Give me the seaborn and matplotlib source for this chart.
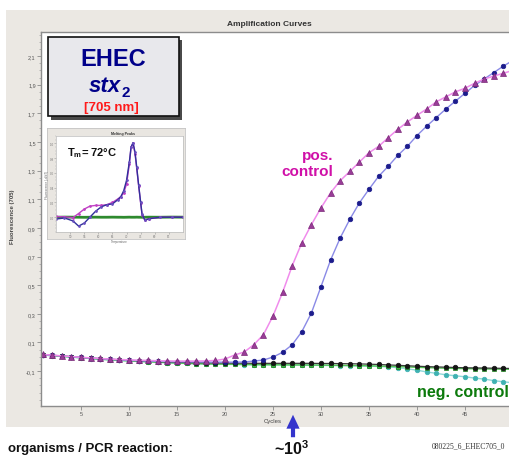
import matplotlib
matplotlib.use("Agg")
import matplotlib.pyplot as plt
import pandas as pd
import seaborn as sns
from matplotlib.patches import Rectangle
from matplotlib.ticker import AutoMinorLocator

# ---------------- data ----------------
cycles = list(range(1, 51))

pos_control = [0.016, 0.011, 0.006, 0.001, -0.004, -0.008, -0.012, -0.016, -0.019, -0.022,
               -0.024, -0.026, -0.028, -0.029, -0.030, -0.030, -0.030, -0.029, -0.026, -0.016,
               0.012, 0.033, 0.084, 0.154, 0.285, 0.450, 0.636, 0.795, 0.923, 1.040,
               1.145, 1.230, 1.294, 1.360, 1.425, 1.469, 1.530, 1.588, 1.640, 1.686,
               1.730, 1.780, 1.815, 1.850, 1.875, 1.910, 1.940, 1.960, 1.980, 2.000]

sample = [0.014, 0.010, 0.005, 0.000, -0.005, -0.010, -0.014, -0.018, -0.022, -0.025,
          -0.028, -0.030, -0.032, -0.034, -0.035, -0.036, -0.037, -0.037, -0.038, -0.038,
          -0.038, -0.037, -0.030, -0.023, -0.002, 0.031, 0.084, 0.175, 0.306, 0.490,
          0.676, 0.830, 0.960, 1.075, 1.170, 1.260, 1.330, 1.406, 1.470, 1.545,
          1.610, 1.670, 1.730, 1.785, 1.840, 1.895, 1.940, 1.985, 2.030, 2.070]

neg_black = [0.014, 0.010, 0.006, 0.001, -0.004, -0.009, -0.013, -0.017, -0.021, -0.025,
             -0.028, -0.031, -0.034, -0.036, -0.038, -0.040, -0.041, -0.042, -0.043, -0.044,
             -0.045, -0.045, -0.046, -0.046, -0.046, -0.046, -0.046, -0.046, -0.046, -0.047,
             -0.047, -0.048, -0.049, -0.050, -0.052, -0.054, -0.057, -0.060, -0.063, -0.066,
             -0.069, -0.071, -0.073, -0.075, -0.077, -0.078, -0.079, -0.080, -0.081, -0.082]

neg_green = [0.012, 0.008, 0.003, -0.002, -0.007, -0.012, -0.017, -0.021, -0.025, -0.029,
             -0.032, -0.035, -0.038, -0.041, -0.044, -0.046, -0.048, -0.050, -0.051, -0.052,
             -0.053, -0.054, -0.055, -0.055, -0.056, -0.056, -0.057, -0.057, -0.058, -0.058,
             -0.059, -0.060, -0.061, -0.062, -0.063, -0.065, -0.067, -0.069, -0.071, -0.074,
             -0.076, -0.078, -0.080, -0.082, -0.083, -0.084, -0.085, -0.086, -0.087, -0.088]

neg_cyan = [0.012, 0.007, 0.002, -0.003, -0.008, -0.013, -0.018, -0.022, -0.026, -0.030,
            -0.033, -0.036, -0.039, -0.042, -0.045, -0.047, -0.049, -0.051, -0.052, -0.053,
            -0.054, -0.055, -0.056, -0.056, -0.057, -0.057, -0.058, -0.058, -0.059, -0.060,
            -0.061, -0.062, -0.063, -0.064, -0.066, -0.068, -0.071, -0.076, -0.084, -0.094,
            -0.106, -0.116, -0.126, -0.133, -0.140, -0.149, -0.156, -0.167, -0.175, -0.182]

x_ticks = [5, 10, 15, 20, 25, 30, 35, 40, 45]
y_ticks = [-0.1, 0.1, 0.3, 0.5, 0.7, 0.9, 1.1, 1.3, 1.5, 1.7, 1.9, 2.1]
y_tick_labels = ["-0,1", "0,1", "0,3", "0,5", "0,7", "0,9", "1,1", "1,3", "1,5", "1,7", "1,9", "2,1"]

# melting-peak inset
melt_temp = [45, 48, 51, 53, 55, 57, 59, 61, 63, 65, 67, 68, 69, 70, 71, 71.6, 72.3,
             73, 73.6, 74.3, 75, 75.5, 76.5, 78, 82, 86, 90]
melt_sample = [-0.025, -0.010, -0.050, -0.120, -0.080, 0.000, 0.080, 0.140, 0.170, 0.180,
               0.240, 0.280, 0.360, 0.500, 0.750, 0.950, 1.010, 0.880, 0.680, 0.430,
               0.200, 0.040, -0.040, -0.020, 0.000, 0.000, 0.000]
melt_pos = [0.010, 0.005, -0.005, 0.050, 0.110, 0.150, 0.160, 0.160, 0.170, 0.200,
            0.250, 0.280, 0.330, 0.450, 0.720, 0.950, 1.000, 0.860, 0.660, 0.420,
            0.190, 0.030, -0.040, -0.020, 0.000, 0.000, 0.000]
melt_neg = [0.000, 0.002, 0.001, 0.000, -0.001, 0.000, 0.001, 0.000, 0.000, 0.001,
            0.000, 0.000, -0.001, 0.000, 0.001, 0.000, 0.000, 0.000, 0.001, 0.000,
            0.000, -0.001, 0.000, 0.001, 0.000, 0.002, 0.001]

# ---------------- style ----------------
sns.set_theme(style="white")
plt.rcParams['font.family'] = ['Liberation Sans', 'DejaVu Sans']
plt.rcParams['mathtext.fontset'] = 'custom'
plt.rcParams['mathtext.rm'] = 'Liberation Sans'
plt.rcParams['mathtext.bf'] = 'Liberation Sans:bold'
plt.rcParams['mathtext.it'] = 'Liberation Sans:italic'

W, H = 509, 460
fig = plt.figure(figsize=(W / 100, H / 100), dpi=100)
fig.patch.set_facecolor('white')


def fx(px):
    return px / W


def fy(py):
    return 1 - py / H


# gray software panel
fig.add_artist(Rectangle((fx(6), fy(428)), 1.0, fy(11) - fy(428), transform=fig.transFigure,
                         facecolor='#ebe8e3', edgecolor='none', zorder=-5))

# ---------------- main plot ----------------
ax = fig.add_axes([fx(41), fy(407), 472 / W, 374 / H], zorder=1)
ax.set_facecolor('white')

names = ['neg_cyan', 'neg_green', 'neg_black', 'sample', 'pos']
values = [neg_cyan, neg_green, neg_black, sample, pos_control]
df = pd.DataFrame({
    'Cycles': cycles * len(names),
    'Fluorescence': [v for vals in values for v in vals],
    'series': [n for n, vals in zip(names, values) for _ in vals],
})

styles = {
    'neg_cyan': dict(color='#8fd8d8', marker='o', markersize=3.3, markerfacecolor='#3fb2b2',
                     markeredgecolor='#3fb2b2', linewidth=1.0),
    'neg_green': dict(color='#52c452', marker='s', markersize=3.0, markerfacecolor='#3ec03e',
                      markeredgecolor='#1f7a1f', linewidth=1.0),
    'neg_black': dict(color='#3a3a3a', marker='o', markersize=3.3, markerfacecolor='#141414',
                      markeredgecolor='#141414', linewidth=0.9),
    'sample': dict(color='#8a8ae6', marker='o', markersize=3.3, markerfacecolor='#1c1c8c',
                   markeredgecolor='#1c1c8c', linewidth=1.0),
    'pos': dict(color='#f08cec', marker='^', markersize=4.3, markerfacecolor='#9a3c98',
                markeredgecolor='#7a2a78', linewidth=1.1),
}
for n in names:
    sns.lineplot(data=df[df['series'] == n], x='Cycles', y='Fluorescence', ax=ax,
                 errorbar=None, legend=False, markeredgewidth=0.5, **styles[n])

ax.set_xlim(0.83, 50)
ax.set_ylim(-0.344, 2.268)
ax.set_xticks(x_ticks)
ax.set_xticklabels([str(t) for t in x_ticks])
ax.set_yticks(y_ticks)
ax.set_yticklabels(y_tick_labels)
ax.yaxis.set_minor_locator(AutoMinorLocator(4))
ax.tick_params(axis='both', which='major', bottom=True, left=True, labelsize=4,
               labelcolor='#555555', color='#8a8a8a', length=3, width=0.6, pad=0.8)
ax.tick_params(axis='y', which='minor', left=True, color='#a0a0a0', length=1.5, width=0.5)
for s in ax.spines.values():
    s.set_color('#8c8c8c')
    s.set_linewidth(1.0)

ax.set_xlabel('Cycles', fontsize=4.3, color='#444444')
ax.xaxis.set_label_coords((273 - 41) / 472, (407 - 419) / 374)
ax.set_ylabel('Fluorescence (705)', fontsize=4.3, fontweight='bold', color='#444444')
ax.yaxis.set_label_coords((15.5 - 41) / 472, (407 - 217) / 374)
ax.set_title('Amplification Curves', fontsize=6, fontweight='bold', color='#333333',
             x=(269 - 41) / 472, pad=5)

# ---------------- EHEC box ----------------
fig.add_artist(Rectangle((fx(51), fy(121)), fx(182) - fx(51), fy(41) - fy(121),
                         transform=fig.transFigure, facecolor='#4a4a4a', edgecolor='none', zorder=5))
fig.add_artist(Rectangle((fx(48), fy(117)), fx(179) - fx(48), fy(38) - fy(117),
                         transform=fig.transFigure, facecolor='#e8e8ec', edgecolor='#111111',
                         linewidth=1.2, zorder=5.5))
fig.text(fx(113), fy(65.5), 'EHEC', ha='center', va='baseline', fontsize=17,
         fontweight='bold', color='#00008a', zorder=6)
fig.text(fx(121), fy(91.7), 'stx', ha='right', va='baseline', fontsize=16,
         fontweight='bold', style='italic', color='#00008a', zorder=6)
fig.text(fx(121.5), fy(97.5), '2', ha='left', va='baseline', fontsize=11,
         fontweight='bold', color='#00008a', zorder=6)
fig.text(fx(111), fy(111), '[705 nm]', ha='center', va='baseline', fontsize=9.5,
         fontweight='bold', color='#ff1a1a', zorder=6)

# ---------------- melting peak inset ----------------
inset_bg = fig.add_axes([fx(47), fy(240), 138 / W, 111 / H], zorder=6)
inset_bg.set_facecolor('#e9e6e1')
inset_bg.set_xticks([])
inset_bg.set_yticks([])
for s in inset_bg.spines.values():
    s.set_color('#c4c4c4')
    s.set_linewidth(0.6)
inset_bg.text(0.55, 0.955, 'Melting Peaks', ha='center', va='center', fontsize=2.6,
              fontweight='bold', color='#333333', transform=inset_bg.transAxes)

iax = fig.add_axes([fx(56), fy(233), 127 / W, 96 / H], zorder=7)
iax.set_facecolor('white')
sns.lineplot(x=melt_temp, y=melt_neg, ax=iax, color='#2e8a2e', linewidth=2.0, errorbar=None)
sns.lineplot(x=melt_temp, y=melt_pos, ax=iax, color='#c040c4', linewidth=1.0, errorbar=None,
             marker='o', markersize=1.2, markerfacecolor='#c040c4', markeredgecolor='#c040c4')
sns.lineplot(x=melt_temp, y=melt_sample, ax=iax, color='#30309a', linewidth=1.0, errorbar=None,
             marker='o', markersize=1.2, markerfacecolor='#6a50c0', markeredgecolor='#6a50c0')
iax.set_xlim(45, 90)
iax.set_ylim(-0.2, 1.1)
iax.set_xticks([50, 55, 60, 65, 70, 75, 80, 85])
iax.set_yticks([0.0, 0.2, 0.4, 0.6, 0.8, 1.0])
iax.yaxis.set_minor_locator(AutoMinorLocator(4))
iax.tick_params(axis='both', which='major', bottom=True, left=True, labelsize=2.2,
                labelcolor='#777777', color='#999999', length=1.2, width=0.4, pad=0.4)
iax.tick_params(axis='y', which='minor', left=True, color='#aaaaaa', length=0.8, width=0.3)
for s in iax.spines.values():
    s.set_color('#bbbbbb')
    s.set_linewidth(0.5)
iax.set_xlabel('Temperature', fontsize=2.2, color='#666666', labelpad=0.5)
iax.set_ylabel('Fluorescence (-d/dT)', fontsize=2.2, color='#666666', labelpad=0.5)
iax.text(0.09, 0.80, r'T$_{\mathbf{m}}$= 72°C', transform=iax.transAxes, fontsize=8,
         fontweight='bold', color='#111111', ha='left', va='baseline')

# ---------------- annotations ----------------
fig.text(fx(333), fy(176), 'pos.\ncontrol', ha='right', va='baseline', multialignment='right',
         fontsize=11, fontweight='bold', color='#d010a8', linespacing=1.15)
fig.text(fx(417), fy(397), 'neg. control', ha='left', va='baseline', fontsize=11.5,
         fontweight='bold', color='#0c7a0c')

fig.text(fx(8), fy(452), 'organisms / PCR reaction:', ha='left', va='baseline',
         fontsize=9.5, fontweight='bold', color='#111111')
fig.text(fx(292), fy(455.5), r'~10$^{\mathbf{3}}$', ha='center', va='baseline',
         fontsize=11.5, fontweight='bold', color='#111111')
fig.text(fx(432), fy(448), '080225_6_EHEC705_0', ha='left', va='baseline', fontsize=5.5,
         family=['Liberation Serif', 'DejaVu Serif'], color='#333333')

ax.annotate('', xy=(293, H - 413), xytext=(293, H - 441), xycoords='figure pixels',
            textcoords='figure pixels', annotation_clip=False,
            arrowprops=dict(arrowstyle='simple,head_length=1.0,head_width=0.95,tail_width=0.3',
                            mutation_scale=10, color='#3434cc', lw=0))

fig.savefig('out.png', dpi=100, facecolor=fig.get_facecolor())
